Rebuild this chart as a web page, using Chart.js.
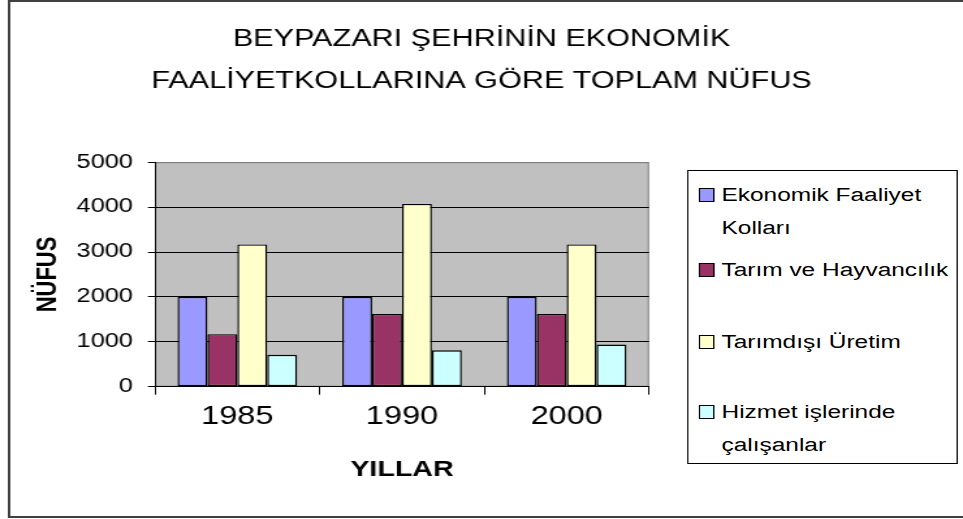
<!DOCTYPE html>
<html lang="tr">
<head>
<meta charset="utf-8">
<title>Beypazarı nüfus</title>
<script src="https://cdn.jsdelivr.net/npm/chart.js@4/dist/chart.umd.min.js"></script>
<style>
  html, body { margin: 0; padding: 0; background: #fff; overflow: hidden; }
  body { width: 963px; height: 519px; position: relative; }
  /* the whole sheet is drawn narrow and widened sideways, like the old office export */
  #wrap {
    position: absolute; left: 0; top: 0;
    width: 740px; height: 519px;
    transform: scaleX(1.3014); transform-origin: 0 0;
    font-family: "Liberation Sans", Arial, sans-serif;
  }
  #frame {
    position: absolute; left: 6px; top: 0; width: 800px; height: 514px;
    border: 2px solid #404040; box-sizing: content-box;
  }
  #chart { position: absolute; left: 0; top: 0; }
  #legend {
    position: absolute; left: 528px; top: 170px; width: 206px; height: 292px;
    border: 1.5px solid #000; background: #fff;
  }
  .item { position: absolute; left: 0; width: 100%; }
  .item .box {
    position: absolute; left: 8px; top: 10px; width: 10px; height: 12px;
    border: 1px solid #000;
  }
  .item .txt {
    position: absolute; left: 25.4px; top: 0;
    font-size: 18.8px; line-height: 33px; color: #000; white-space: nowrap;
  }
</style>
</head>
<body>
<div id="wrap">
  <div id="frame"></div>
  <canvas id="chart" width="740" height="519"></canvas>
  <div id="legend"></div>
</div>
<script>
const years = ["1985", "1990", "2000"];
const ekonomikFaaliyet = [2000, 2000, 2000];
const tarimHayvancilik = [1170, 1620, 1620];
const tarimdisiUretim = [3170, 4070, 3170];
const hizmetIsleri = [710, 810, 940];

const seriesNames = [
  "Ekonomik Faaliyet Kolları",
  "Tarım ve Hayvancılık",
  "Tarımdışı Üretim",
  "Hizmet işlerinde çalışanlar",
];
// legend text broken into lines
const legendLines = [
  ["Ekonomik Faaliyet", "Kolları"],
  ["Tarım ve Hayvancılık"],
  ["Tarımdışı Üretim"],
  ["Hizmet işlerinde", "çalışanlar"],
];
const legendTops = [6.5, 81.5, 153.5, 223.5];
const seriesColors = ["#9999FF", "#993366", "#FFFFCC", "#CCFFFF"];

const titleLines = ["BEYPAZARI ŞEHRİNİN EKONOMİK", "FAALİYETKOLLARINA GÖRE TOPLAM NÜFUS"];
const yMin = 0, yMax = 5000, yStep = 1000;

const FONT = "'Liberation Sans', Arial, sans-serif";

// grey plot area with its thin frame
const plotBg = {
  id: "plotBg",
  beforeDraw(chart) {
    const { ctx, chartArea } = chart;
    const { left, top, width, height } = chartArea;
    ctx.save();
    ctx.fillStyle = "#C0C0C0";
    ctx.fillRect(left, top, width, height);
    ctx.strokeStyle = "#808080";
    ctx.lineWidth = 1;
    ctx.strokeRect(left + 0.5, top + 0.5, width - 1, height - 1);
    ctx.restore();
  },
};

const values = [ekonomikFaaliyet, tarimHayvancilik, tarimdisiUretim, hizmetIsleri];
const datasets = values.map((data, i) => ({
  label: seriesNames[i],
  data: data,
  backgroundColor: seriesColors[i],
  borderColor: "#000",
  borderWidth: 1.4,
  borderSkipped: false,
  categoryPercentage: 0.726,
  barPercentage: 1.0,
}));

new Chart(document.getElementById("chart"), {
  type: "bar",
  data: { labels: years, datasets: datasets },
  options: {
    responsive: false,
    animation: false,
    devicePixelRatio: 1,
    layout: { padding: 0 },
    plugins: {
      legend: { display: false },
      tooltip: { enabled: false },
      title: {
        display: true,
        text: titleLines,
        color: "#000",
        font: { family: FONT, size: 23.5, weight: "normal", lineHeight: 1.76 },
        padding: { top: 19, bottom: 60.5 },
      },
    },
    scales: {
      x: {
        type: "category",
        afterFit: (s) => { s.height = 132.3; },
        grid: {
          offset: true,
          drawOnChartArea: false,
          drawTicks: true,
          tickLength: 8,
          color: "#000",
        },
        border: { color: "#000", width: 1 },
        ticks: { color: "#000", padding: 7, font: { family: FONT, size: 25 } },
        title: {
          display: true,
          text: "YILLAR",
          color: "#000",
          font: { family: FONT, size: 22, weight: "bold" },
          padding: { top: 0, bottom: 35.8 },
        },
      },
      y: {
        min: yMin,
        max: yMax,
        afterFit: (s) => { s.width = 119.1; },
        grid: {
          color: (c) => (c.tick && c.tick.value === yMax ? "#808080" : "#000"),
          tickColor: "#000",
          tickLength: 5.4,
          lineWidth: 1,
        },
        border: { color: "#000", width: 1 },
        ticks: {
          stepSize: yStep,
          color: "#000",
          padding: 11.5,
          font: { family: FONT, size: 19.5 },
          callback: (v) => String(v),
        },
        title: {
          display: true,
          text: "NÜFUS",
          color: "#000",
          font: { family: FONT, size: 22, weight: "bold" },
          padding: { top: 23.7, bottom: 0 },
        },
      },
      // empty axis that keeps room for the legend on the right
      spacer: {
        type: "linear",
        position: "right",
        afterFit: (s) => { s.width = 241.3; },
        grid: { display: false, drawTicks: false },
        border: { display: false },
        ticks: { display: false },
      },
    },
  },
  plugins: [plotBg],
});

// legend box, built from the series list
const legendDiv = document.getElementById("legend");
legendLines.forEach((lines, i) => {
  const item = document.createElement("div");
  item.className = "item";
  item.style.top = legendTops[i] + "px";
  item.innerHTML =
    `<div class="box" style="background:${seriesColors[i]}"></div>` +
    `<div class="txt">${lines.join("<br>")}</div>`;
  legendDiv.appendChild(item);
});
</script>
</body>
</html>
